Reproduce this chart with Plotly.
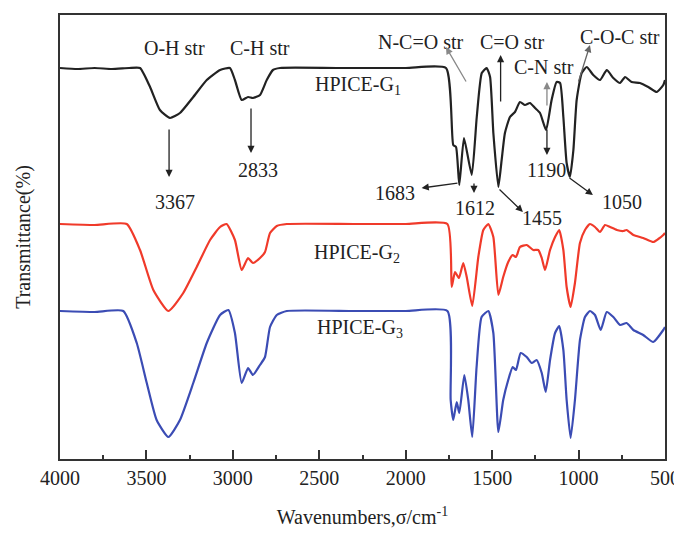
import plotly.graph_objects as go

# ---- data (transmittance, arbitrary units; wavenumber cm-1) ----
g1_wn = [4000, 3900, 3800, 3700, 3600, 3537, 3479, 3422, 3364, 3306, 3229, 3151, 3074, 3017,
         2988, 2949, 2912, 2884, 2843, 2804, 2768, 2727, 2400, 2000, 1767, 1725, 1709, 1690,
         1663, 1618, 1589, 1560, 1532, 1512, 1493, 1464, 1445, 1426, 1397, 1368, 1339, 1310,
         1281, 1252, 1223, 1188, 1156, 1127, 1107, 1088, 1069, 1050, 1030, 1011, 982, 953,
         915, 876, 837, 799, 760, 731, 693, 645, 597, 548, 510, 500]
g1_t = [391, 390, 391, 390, 391, 391, 372, 349, 341, 346, 362, 379, 389, 391,
        379, 359, 362, 361, 364, 379, 389, 391, 391, 391, 391, 314, 312, 274,
        321, 284, 342, 386, 391, 382, 326, 272, 299, 326, 342, 347, 357, 354,
        356, 351, 346, 329, 359, 377, 376, 342, 296, 282, 309, 359, 386, 392,
        384, 379, 389, 381, 376, 382, 377, 376, 372, 367, 374, 379]

g2_wn = [4000, 3800, 3614, 3537, 3460, 3373, 3287, 3209, 3132, 3074, 3036, 2988, 2949, 2912,
         2884, 2843, 2814, 2785, 2746, 2688, 2300, 2000, 1759, 1734, 1715, 1692, 1667, 1647,
         1615, 1580, 1551, 1522, 1493, 1464, 1436, 1407, 1381, 1362, 1339, 1300, 1262, 1233,
         1213, 1194, 1165, 1136, 1112, 1088, 1069, 1046, 1021, 992, 963, 934, 905, 876, 847,
         818, 779, 741, 722, 683, 626, 568, 539, 510, 500]
g2_t = [235, 234, 235, 209, 169, 148, 166, 192, 219, 232, 235, 219, 189, 201,
        196, 201, 207, 226, 233, 235, 235, 235, 235, 172, 187, 181, 196, 182,
        153, 202, 229, 235, 222, 164, 182, 197, 204, 202, 212, 214, 209, 209,
        201, 189, 209, 222, 229, 209, 172, 152, 176, 216, 229, 235, 232, 227, 234,
        232, 229, 228, 229, 224, 221, 217, 220, 224, 226]

g3_wn = [4000, 3800, 3634, 3556, 3498, 3441, 3373, 3306, 3229, 3151, 3074, 3026, 2988, 2949,
         2912, 2884, 2843, 2814, 2785, 2746, 2688, 2300, 2000, 1759, 1740, 1725, 1705, 1690,
         1661, 1638, 1615, 1590, 1561, 1522, 1493, 1464, 1436, 1407, 1381, 1362, 1335, 1300,
         1271, 1243, 1213, 1190, 1165, 1136, 1112, 1088, 1069, 1046, 1021, 992, 963, 934,
         905, 872, 837, 799, 760, 722, 683, 626, 568, 510, 500]
g3_t = [148, 147, 148, 116, 76, 39, 22, 39, 76, 116, 144, 149, 126, 76,
        91, 84, 94, 102, 132, 144, 148, 148, 148, 148, 59, 39, 57, 46,
        84, 59, 22, 92, 142, 148, 126, 27, 59, 79, 92, 89, 106, 102,
        96, 99, 86, 67, 99, 126, 133, 109, 59, 21, 59, 119, 142, 148,
        144, 129, 147, 142, 134, 136, 129, 124, 117, 129, 132]

series_names = ["HPICE-G<sub>1</sub>", "HPICE-G<sub>2</sub>", "HPICE-G<sub>3</sub>"]
series_colors = ["#222222", "#f03a2a", "#3b4cb4"]

x_ticks = [4000, 3500, 3000, 2500, 2000, 1500, 1000, 500]

FONT = "Liberation Serif, Times New Roman, serif"

fig = go.Figure()
for wn, t, name, col in zip([g1_wn, g2_wn, g3_wn], [g1_t, g2_t, g3_t], series_names, series_colors):
    fig.add_trace(go.Scatter(x=wn, y=t, mode="lines", name=name,
                             line=dict(color=col, width=2.2, shape="spline", smoothing=0.5),
                             showlegend=False, hoverinfo="skip"))

# text labels
texts = [
    ("O-H str", 3335, 411, "center"),
    ("C-H str", 2843, 411, "center"),
    ("3367", 3335, 257, "center"),
    ("2833", 2855, 289, "center"),
    ("1683", 2062, 266, "center"),
    ("1612", 1599, 251, "center"),
    ("1455", 1212, 241, "center"),
    ("1050", 749, 257, "center"),
    ("1190", 1188, 289, "center"),
    ("C-N str", 1200, 392, "center"),
    ("N-C=O str", 1912, 417, "center"),
    ("C=O str", 1385, 417, "center"),
    ("C-O-C str", 760, 422, "center"),
    ("HPICE-G<sub>1</sub>", 2536, 374, "left"),
    ("HPICE-G<sub>2</sub>", 2542, 206, "left"),
    ("HPICE-G<sub>3</sub>", 2525, 131, "left"),
]
for txt, x, y, anc in texts:
    fig.add_annotation(x=x, y=y, text=txt, showarrow=False, xanchor=anc, yanchor="middle",
                       font=dict(family=FONT, size=20, color="#222222"))

# arrows: (tail_x, tail_y, head_x, head_y, color)
arrows = [
    (3369, 331, 3369, 282, "#222222"),
    (2895, 352, 2895, 306, "#222222"),
    (1692, 276, 1908, 271, "#222222"),
    (1605, 277, 1605, 266, "#222222"),
    (1466, 271, 1322, 247, "#222222"),
    (1061, 282, 917, 264, "#222222"),
    (1183, 331, 1183, 304, "#222222"),
    (1183, 352, 1183, 377, "#888888"),
    (1646, 376, 1767, 412, "#888888"),
    (1451, 356, 1451, 404, "#222222"),
    (1003, 376, 934, 414, "#666666"),
]
for tx, ty, hx, hy, col in arrows:
    fig.add_annotation(x=hx, y=hy, ax=tx, ay=ty, xref="x", yref="y", axref="x", ayref="y",
                       text="", showarrow=True, arrowhead=2, arrowsize=1.1, arrowwidth=1.3,
                       arrowcolor=col)

# page body has an 8px default margin, so the figure is sized to fit the 682x533 window
fig.update_layout(
    width=674, height=525,
    margin=dict(l=52, r=17, t=7, b=74, autoexpand=False),
    paper_bgcolor="white", plot_bgcolor="white",
    font=dict(family=FONT, size=20, color="#222222"),
)
fig.update_xaxes(
    range=[4000, 500], tickvals=x_ticks, ticktext=[str(v) for v in x_ticks],
    ticks="inside", ticklen=9, tickwidth=2, tickcolor="#333333",
    minor=dict(ticks="inside", ticklen=4, tickwidth=2, dtick=250, tick0=250, tickcolor="#333333"),
    showline=True, linewidth=2, linecolor="#333333", mirror=True,
    showgrid=False, zeroline=False, automargin=False,
    tickfont=dict(family=FONT, size=20, color="#222222"),
    title=dict(text="Wavenumbers,σ/cm<sup>-1</sup>", font=dict(family=FONT, size=20), standoff=22),
)
fig.update_yaxes(
    range=[0, 444], showticklabels=False, ticks="",
    showline=True, linewidth=2, linecolor="#333333", mirror=True,
    showgrid=False, zeroline=False, automargin=False,
    title=dict(text="Transmittance(%)", font=dict(family=FONT, size=20), standoff=22),
)

fig.write_html("out.html")
